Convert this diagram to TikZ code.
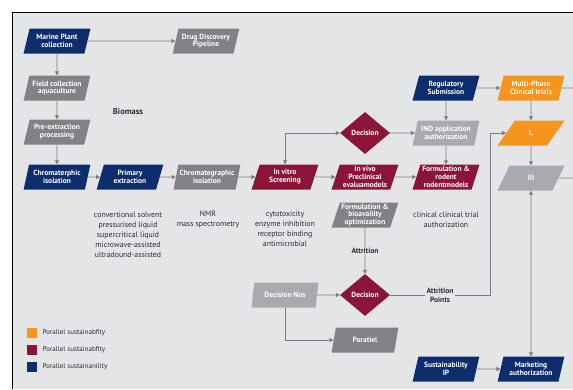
\documentclass[tikz,border=0pt]{standalone}
\usepackage{fontspec}
\setmainfont{PT Sans}
\usepackage{xcolor}
\usetikzlibrary{positioning,arrows.meta,shapes.geometric}
\definecolor{PanelGrey}{HTML}{E4E5E7}
\definecolor{DeepNavy}{HTML}{0D2D6C}
\definecolor{Crimson}{HTML}{8A1538}
\definecolor{Amber}{HTML}{F7941D}
\definecolor{SlateGrey}{HTML}{808285}
\definecolor{MistGrey}{HTML}{A9AAAD}
\definecolor{LineGrey}{HTML}{7A7B7E}
\definecolor{TextDark}{HTML}{2A2A30}

\begin{document}
\begin{tikzpicture}[x=1pt,y=-1pt,
    every node/.style={font=\fontsize{7.5}{8}\selectfont},
    >={Triangle[length=4pt,width=4pt]},
    box/.style={trapezium, trapezium left angle=71, trapezium right angle=109,
      trapezium stretches=true, minimum width=67pt, minimum height=25pt,
      inner sep=0pt, text=white, align=center,
      font=\fontsize{7.5}{7.8}\selectfont\bfseries},
    gate/.style={diamond, fill=Crimson, minimum width=50pt, minimum height=42pt,
      inner sep=0pt, text=white, font=\fontsize{7.5}{8}\selectfont\bfseries},
    flow/.style={->, draw=LineGrey, line width=0.8pt},
    tag/.style={fill=PanelGrey, inner sep=1.5pt, align=center, text=TextDark,
      font=\fontsize{7.5}{9}\selectfont\bfseries},
    note/.style={align=center, text=TextDark, font=\fontsize{7.8}{10}\selectfont}]
  \useasboundingbox (0,0) rectangle (573,389);
  \fill[PanelGrey] (12,12) rectangle (573,389);
  \draw[black, line width=0.8pt] (12,389) -- (12,12) -- (573,12);

  % process boxes
  \foreach \nm/\xx/\yy/\cc/\tx in {
    marine/57/41/DeepNavy/{Marine Plant\\collection},
    drug/206/41/SlateGrey/{Drug Discovery\\Pipeline},
    field/57/88/SlateGrey/{Field collection\\aquaculture},
    pre/57/132/SlateGrey/{Pre-extraction\\processing},
    chromA/57/177/DeepNavy/{Chromaterphic\\isolation},
    primary/130/177/DeepNavy/{Primary\\extraction},
    chromB/207/177/SlateGrey/{Chromategraphic\\isolation},
    vitro/285/177/Crimson/{In vitro\\Screening},
    vivo/365/177/Crimson/{In vivo\\Preclinical\\evaluamodels},
    formR/446/177/Crimson/{Formulation \&\\rodent\\rodentmodels},
    ind/446/133/MistGrey/{IND application\\authorization},
    reg/446/88/DeepNavy/{Regulatory\\Submission},
    multi/531/88/Amber/{Multi-Phase\\Clinical trials},
    phI/531/133/Amber/{I,},
    phIII/531/178/MistGrey/{III},
    formB/365/215/SlateGrey/{Formulation \&\\bioavaility\\optimization},
    decNos/285/295/MistGrey/{Decision Nos},
    parallel/365/340/SlateGrey/{Paratiel},
    sustIP/446/369/DeepNavy/{Sustainability\\IP},
    market/531/369/DeepNavy/{Marketing\\authorization}%
    }{
    \node[box, fill=\cc] (\nm) at (\xx,\yy) {\tx};
    }
  \node[gate] (decTop) at (365,133) {Decision};
  \node[gate] (decLow) at (365,295) {Decision};

  % straight arrows
  \foreach \a/\b in {marine/drug, marine/field, field/pre, pre/chromA,
    chromA/primary, primary/chromB, chromB/vitro, vitro/vivo, vivo/formR,
    decTop/ind, reg/ind, ind/formR, reg/multi, multi/phI, phI/phIII,
    decNos/decLow, sustIP/market}
    \draw[flow] (\a) -- (\b);

  \draw[flow, <->] (vitro.north) |- (decTop.west);
  \draw[flow, <->] (phIII) -- (market);
  \draw[flow] (formB) -- node[tag] {Attrition} (decLow);
  \coordinate (bendA) at (490,295);
  \draw[flow] (decLow.east) -- node[tag] {Attrition\\Points} (bendA) |- (phI.west);
  \draw[flow] (decNos.south) |- (parallel.west);

  % lines running off the right edge
  \coordinate (exitA) at (573,88);
  \coordinate (exitB) at (573,178);
  \draw[LineGrey, line width=0.8pt] (multi.east) -- (exitA);
  \draw[LineGrey, line width=0.8pt] (phIII.east) -- (exitB);

  % notes
  \node[text=TextDark, font=\fontsize{8.5}{9}\selectfont\bfseries] (biomass) at (128,112) {Biomass};
  \node[note] (extrNote) at (128,235) {convertional solvent\\pressurised liquid\\supercritical liquid\\microwave-assisted\\ultradound-assisted};
  \node[note] (nmrNote) at (208,220) {NMR\\mass spectrometry};
  \node[note] (assayNote) at (285,229) {cytotoxicity\\enzyme inhibition\\receptor binding\\antimicrobial};
  \node[note] (trialNote) at (446,220) {clinical clinical trial\\authorization};

  % legend
  \foreach \cc/\tx/\yy [count=\i] in {
    Amber/{Porallel sustainabfity}/333,
    Crimson/{Porallel sustainabfity}/350,
    DeepNavy/{Porallel sustainanility}/367%
    }{
    \fill[\cc] (27,\yy-5) rectangle (37,\yy+5);
    \node[anchor=west, text=TextDark, font=\fontsize{7}{7}\selectfont] (key\i) at (39,\yy) {\tx};
    }
\end{tikzpicture}
\end{document}
